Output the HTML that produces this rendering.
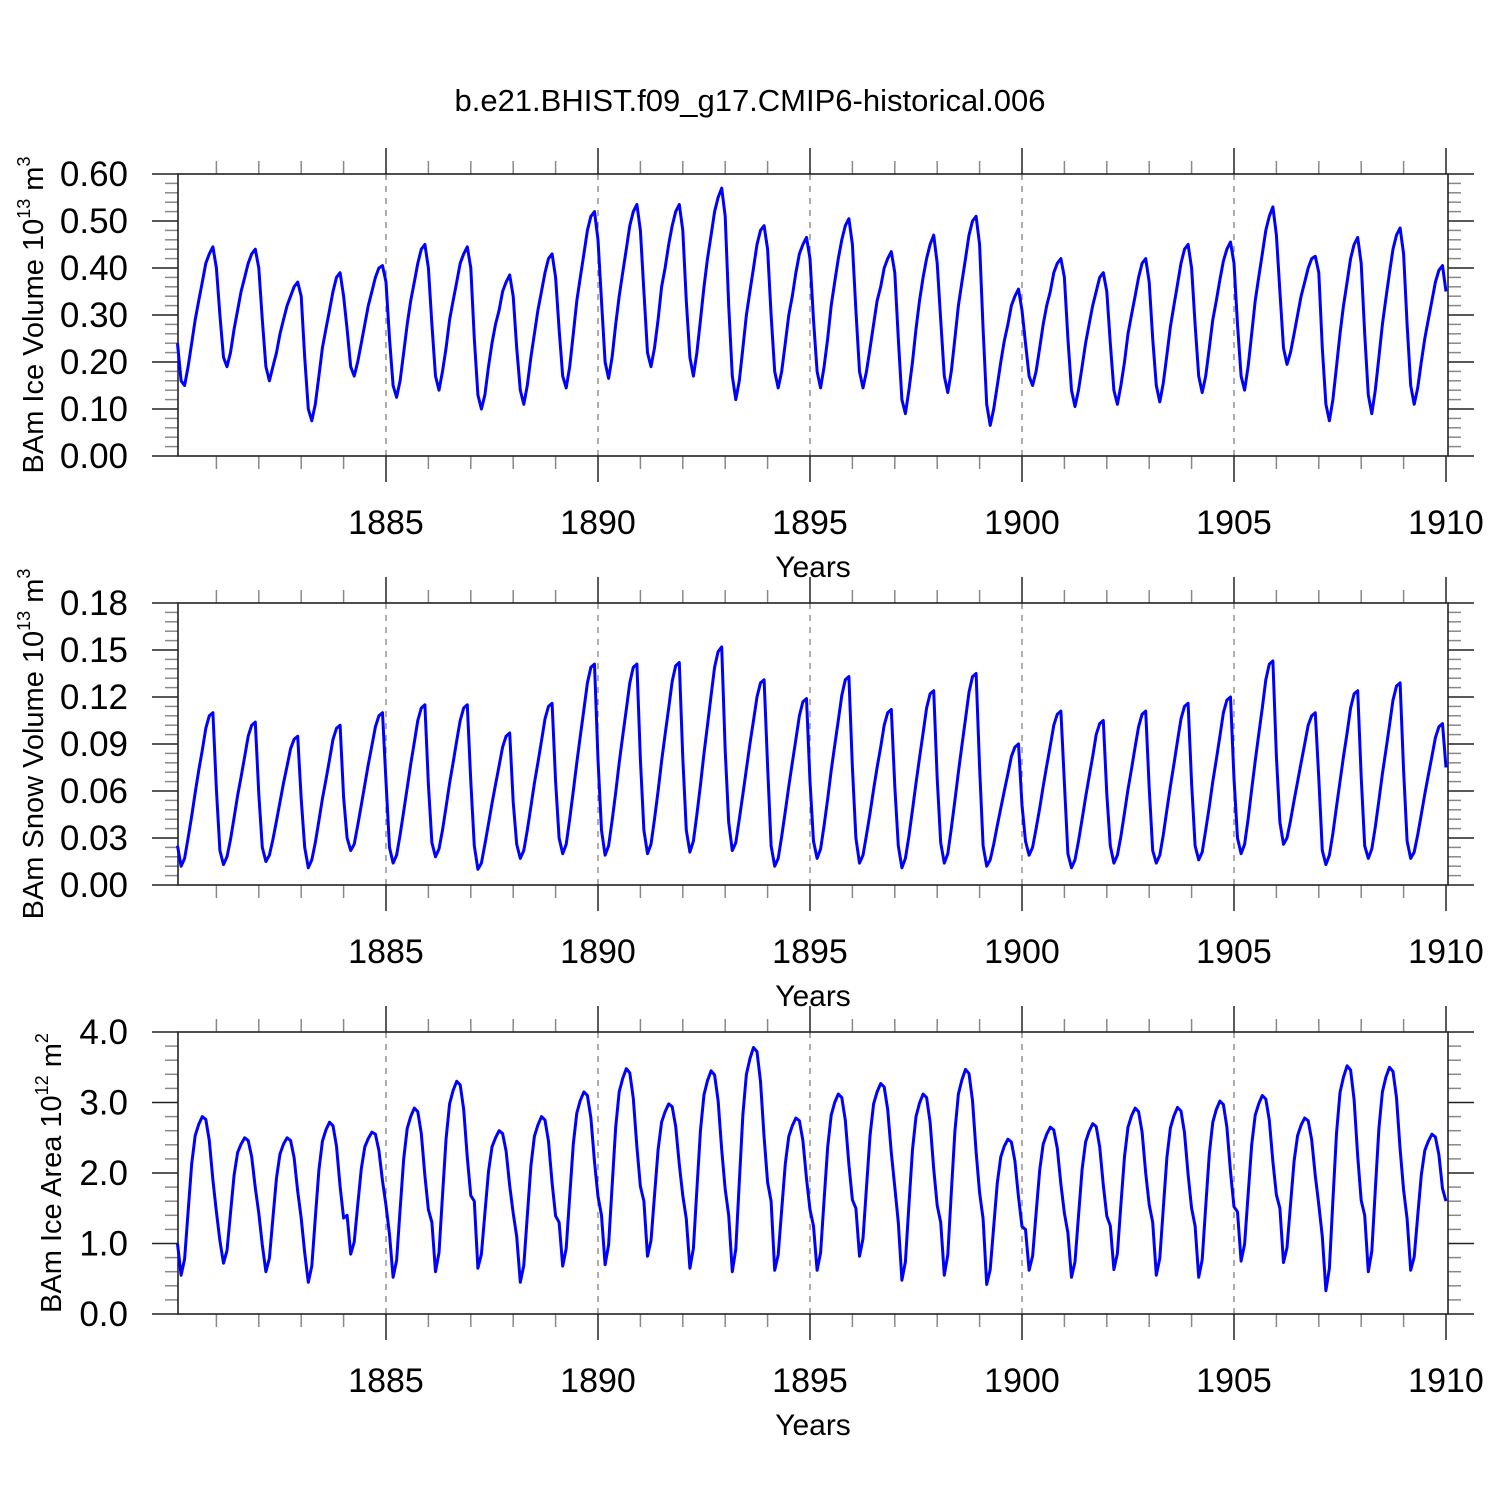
<!DOCTYPE html>
<html><head><meta charset="utf-8">
<style>
html,body{margin:0;padding:0;background:#fff;}
svg{display:block;font-family:"Liberation Sans",Arial,sans-serif;}
</style></head>
<body>
<svg id="chart" width="1500" height="1500" viewBox="0 0 1500 1500" xmlns="http://www.w3.org/2000/svg">
<rect width="1500" height="1500" fill="#fff"/>
<text x="750" y="111" text-anchor="middle" font-size="31">b.e21.BHIST.f09_g17.CMIP6-historical.006</text>
</svg>
<script>
// ---- data (monthly, Jan 1880 - Dec 1909) ----
const startYear = 1880;
const xTickLabels = ["1885","1890","1895","1900","1905","1910"];
const iceVolume = [
.24,.16,.15,.19,.24,.29,.33,.37,.41,.43,.445,.40,
.30,.21,.19,.22,.27,.31,.35,.38,.41,.43,.44,.40,
.29,.19,.16,.19,.22,.26,.29,.32,.34,.36,.37,.34,
.21,.10,.075,.11,.17,.23,.27,.31,.35,.38,.39,.34,
.27,.19,.17,.20,.24,.28,.32,.35,.38,.40,.405,.37,
.25,.15,.125,.16,.22,.28,.33,.37,.41,.44,.45,.40,
.28,.17,.14,.18,.23,.29,.33,.37,.41,.43,.445,.40,
.25,.13,.10,.13,.19,.24,.28,.31,.35,.37,.385,.34,
.23,.14,.11,.15,.21,.26,.31,.35,.39,.42,.43,.38,
.27,.17,.145,.19,.26,.33,.38,.43,.48,.51,.52,.46,
.33,.20,.165,.21,.28,.34,.39,.44,.49,.52,.535,.48,
.35,.22,.19,.23,.29,.36,.40,.45,.49,.52,.535,.48,
.33,.21,.17,.22,.29,.36,.42,.47,.52,.55,.57,.51,
.32,.17,.12,.16,.23,.30,.35,.40,.45,.48,.49,.44,
.30,.18,.145,.18,.24,.30,.34,.39,.43,.45,.465,.42,
.29,.18,.145,.19,.25,.32,.37,.42,.46,.49,.505,.45,
.31,.18,.145,.18,.23,.28,.33,.36,.40,.42,.435,.39,
.25,.12,.09,.14,.20,.27,.33,.38,.42,.45,.47,.41,
.29,.17,.135,.18,.25,.32,.37,.42,.47,.50,.51,.45,
.27,.11,.065,.10,.15,.20,.245,.28,.32,.34,.355,.31,
.24,.17,.15,.18,.23,.28,.32,.35,.39,.41,.42,.38,
.25,.14,.105,.14,.19,.24,.28,.32,.35,.38,.39,.35,
.24,.14,.11,.15,.20,.26,.30,.34,.38,.41,.42,.37,
.25,.15,.115,.155,.215,.275,.32,.365,.41,.44,.45,.40,
.28,.17,.135,.17,.23,.29,.33,.375,.415,.44,.455,.41,
.28,.17,.14,.19,.26,.33,.38,.43,.48,.51,.53,.47,
.35,.23,.195,.22,.26,.30,.34,.37,.40,.42,.425,.39,
.23,.11,.075,.12,.19,.26,.32,.37,.42,.45,.465,.41,
.26,.13,.09,.14,.21,.28,.335,.39,.44,.47,.485,.43,
.28,.15,.11,.145,.20,.25,.29,.33,.37,.395,.405,.35];
const snowVolume = [
.025,.012,.017,.030,.044,.059,.073,.086,.100,.108,.110,.061,
.022,.013,.018,.029,.043,.057,.069,.082,.095,.102,.104,.058,
.024,.015,.019,.029,.041,.053,.065,.076,.087,.093,.095,.055,
.024,.011,.016,.027,.041,.055,.067,.080,.093,.100,.102,.056,
.030,.022,.026,.038,.051,.064,.077,.089,.101,.108,.110,.066,
.024,.014,.019,.032,.047,.062,.077,.091,.105,.113,.115,.064,
.027,.018,.023,.035,.050,.065,.078,.092,.105,.113,.115,.066,
.025,.010,.014,.026,.039,.052,.064,.076,.088,.095,.097,.053,
.026,.017,.022,.035,.050,.065,.078,.092,.106,.114,.116,.066,
.030,.020,.026,.042,.060,.078,.095,.112,.129,.139,.141,.080,
.035,.019,.025,.041,.059,.078,.095,.112,.129,.139,.141,.080,
.035,.020,.026,.042,.060,.079,.096,.113,.130,.140,.142,.081,
.035,.021,.028,.045,.064,.084,.102,.121,.139,.149,.152,.086,
.040,.022,.027,.042,.058,.074,.090,.105,.120,.129,.131,.076,
.025,.012,.017,.031,.047,.063,.078,.093,.108,.117,.119,.066,
.028,.017,.023,.038,.055,.073,.089,.105,.121,.131,.133,.075,
.030,.014,.019,.032,.046,.061,.075,.088,.102,.110,.112,.063,
.025,.011,.017,.031,.048,.065,.081,.097,.113,.122,.124,.068,
.027,.014,.020,.036,.054,.072,.089,.106,.123,.133,.135,.075,
.025,.012,.016,.026,.038,.049,.060,.071,.082,.088,.090,.051,
.028,.019,.024,.036,.049,.063,.076,.089,.102,.109,.111,.065,
.020,.011,.016,.028,.042,.056,.069,.082,.096,.103,.105,.058,
.025,.014,.019,.031,.046,.061,.074,.088,.101,.109,.111,.062,
.022,.014,.019,.032,.048,.063,.077,.092,.106,.114,.116,.065,
.025,.016,.021,.035,.050,.066,.080,.095,.110,.118,.120,.068,
.030,.020,.026,.042,.061,.079,.096,.113,.131,.141,.143,.082,
.040,.026,.030,.041,.054,.066,.078,.090,.102,.108,.110,.068,
.022,.013,.019,.033,.050,.066,.082,.097,.113,.122,.124,.069,
.025,.017,.023,.037,.054,.071,.086,.102,.118,.127,.129,.073,
.028,.017,.021,.032,.045,.058,.070,.082,.094,.101,.103,.075];
const iceArea = [
1.0,.55,.78,1.45,2.13,2.53,2.69,2.8,2.76,2.46,1.9,1.45,
1.04,.72,.9,1.43,1.97,2.29,2.41,2.5,2.46,2.23,1.79,1.43,
.98,.6,.79,1.36,1.93,2.27,2.41,2.5,2.46,2.22,1.74,1.36,
.87,.45,.68,1.36,2.04,2.45,2.61,2.72,2.67,2.38,1.81,1.36,
1.4,.85,1.02,1.54,2.06,2.37,2.49,2.58,2.55,2.32,1.89,1.54,
1.13,.52,.76,1.48,2.2,2.63,2.8,2.92,2.87,2.56,1.96,1.48,
1.3,.6,.87,1.68,2.49,2.98,3.17,3.3,3.25,2.9,2.22,1.68,
1.6,.65,.85,1.43,2.02,2.37,2.5,2.6,2.56,2.31,1.82,1.43,
1.1,.45,.69,1.39,2.1,2.52,2.68,2.8,2.75,2.45,1.86,1.39,
1.3,.68,.93,1.67,2.41,2.85,3.03,3.15,3.1,2.78,2.16,1.67,
1.4,.7,.98,1.81,2.65,3.15,3.34,3.48,3.42,3.06,2.37,1.81,
1.6,.82,1.04,1.68,2.33,2.72,2.87,2.98,2.94,2.66,2.12,1.68,
1.35,.65,.93,1.77,2.61,3.11,3.31,3.45,3.39,3.03,2.33,1.77,
1.4,.6,.92,1.87,2.83,3.4,3.62,3.78,3.72,3.3,2.51,1.87,
1.6,.62,.84,1.48,2.13,2.52,2.67,2.78,2.74,2.46,1.92,1.48,
1.25,.62,.87,1.62,2.37,2.82,3.0,3.12,3.07,2.75,2.12,1.62,
1.5,.82,1.07,1.8,2.54,2.98,3.15,3.27,3.22,2.9,2.29,1.8,
1.3,.48,.74,1.54,2.33,2.8,2.99,3.12,3.07,2.72,2.06,1.54,
1.3,.55,.84,1.72,2.59,3.12,3.32,3.47,3.41,3.03,2.3,1.72,
1.35,.42,.63,1.24,1.86,2.23,2.38,2.48,2.44,2.17,1.66,1.24,
1.2,.62,.82,1.43,2.04,2.41,2.55,2.65,2.61,2.35,1.84,1.43,
1.15,.52,.74,1.39,2.05,2.44,2.59,2.7,2.66,2.37,1.83,1.39,
1.25,.63,.86,1.55,2.23,2.65,2.81,2.92,2.87,2.58,2.0,1.55,
1.3,.55,.79,1.5,2.22,2.64,2.81,2.93,2.88,2.57,1.98,1.5,
1.25,.52,.77,1.52,2.27,2.72,2.9,3.02,2.97,2.65,2.02,1.52,
1.45,.75,.99,1.69,2.4,2.82,2.98,3.1,3.05,2.75,2.16,1.69,
1.5,.73,.94,1.55,2.17,2.53,2.68,2.78,2.74,2.47,1.96,1.55,
1.1,.33,.65,1.61,2.56,3.14,3.36,3.52,3.46,3.04,2.24,1.61,
1.4,.6,.89,1.76,2.63,3.15,3.36,3.5,3.44,3.07,2.34,1.76,
1.35,.62,.81,1.39,1.97,2.32,2.45,2.55,2.51,2.26,1.78,1.6];
const volTicks = ["0.00","0.10","0.20","0.30","0.40","0.50","0.60"];
const snowTicks = ["0.00","0.03","0.06","0.09","0.12","0.15","0.18"];
const areaTicks = ["0.0","1.0","2.0","3.0","4.0"];

// ---- drawing ----
const NS = "http://www.w3.org/2000/svg";
const svg = document.getElementById("chart");
const X0 = 178, X1 = 1448;
function xScale(t){ return 386 + (t - 1885) * 42.4; }
function mk(tag, attrs, parent){
  const e = document.createElementNS(NS, tag);
  for (const k in attrs) e.setAttribute(k, attrs[k]);
  (parent || svg).appendChild(e);
  return e;
}
function drawPanel(key, top, bottom, vmax, ticks, minorPer, data, titleMain, sup, unitSup, titleX){
  const g = mk("g", {});
  
  
  const y = v => bottom - (v / vmax) * (bottom - top);
  for (let yr = 1885; yr <= 1905; yr += 5){
    const gl = mk("line", {x1:xScale(yr), x2:xScale(yr), y1:top, y2:bottom, stroke:"#777", "stroke-width":1.2, "stroke-dasharray":"6,6"}, g);
    
    
  }
  for (let yr = 1881; yr <= 1910; yr++){
    const major = yr % 5 === 0;
    const len = major ? 26 : 13;
    const xx = xScale(yr);
    const c = major ? "#222" : "#888";
    mk("line", {x1:xx, x2:xx, y1:top, y2:top-len, stroke:c, "stroke-width":1.5}, g);
    mk("line", {x1:xx, x2:xx, y1:bottom, y2:bottom+len, stroke:c, "stroke-width":1.5}, g);
  }
  xTickLabels.forEach(l => {
    const t = mk("text", {x:xScale(+l), y:bottom+78, "text-anchor":"middle", "font-size":34}, g);
    t.textContent = l;
    
    
  });
  const xt = mk("text", {x:813, y:bottom+121, "text-anchor":"middle", "font-size":30}, g);
  xt.textContent = "Years";
  
  
  const nMaj = ticks.length - 1;
  for (let i = 0; i <= nMaj * minorPer; i++){
    const v = vmax * i / (nMaj * minorPer);
    const yy = y(v);
    const major = i % minorPer === 0;
    const len = major ? 26 : 13;
    const c = major ? "#222" : "#888";
    mk("line", {x1:X0-len, x2:X0, y1:yy, y2:yy, stroke:c, "stroke-width":1.5}, g);
    mk("line", {x1:X1, x2:X1+len, y1:yy, y2:yy, stroke:c, "stroke-width":1.5}, g);
  }
  ticks.forEach((l, i) => {
    const t = mk("text", {x:128, y:y(vmax*i/nMaj)+12, "text-anchor":"end", "font-size":35}, g);
    t.textContent = l;
    
    
  });
  mk("rect", {x:X0, y:top, width:X1-X0, height:bottom-top, fill:"none", stroke:"#222", "stroke-width":1.6}, g);
  const cy = (top + bottom) / 2;
  const yt = mk("text", {x:0, y:0, "text-anchor":"middle", "font-size":29, transform:"translate(" + titleX + "," + cy + ") rotate(-90)"}, g);
  
  
  yt.appendChild(document.createTextNode(titleMain + " 10"));
  const s1 = mk("tspan", {"font-size":18, dy:-13}, yt); s1.textContent = sup;
  const s2 = mk("tspan", {dy:13}, yt); s2.textContent = " m";
  const s3 = mk("tspan", {"font-size":18, dy:-13}, yt); s3.textContent = unitSup;
  const pts = data.map((v, i) => xScale(startYear + (i + 1) / 12).toFixed(1) + "," + y(v).toFixed(1)).join(" ");
  const pl = mk("polyline", {points:pts, fill:"none", stroke:"#0000ff", "stroke-width":3, "stroke-linejoin":"round"}, g);
  
  
}
drawPanel("ice-volume", 174, 456, 0.6, volTicks, 5, iceVolume, "BAm Ice Volume", "13", "3", 43);
drawPanel("snow-volume", 603, 885, 0.18, snowTicks, 5, snowVolume, "BAm Snow Volume", "13", "3", 43);
drawPanel("ice-area", 1032, 1314, 4.0, areaTicks, 5, iceArea, "BAm Ice Area", "12", "2", 61);
</script>
</body></html>
